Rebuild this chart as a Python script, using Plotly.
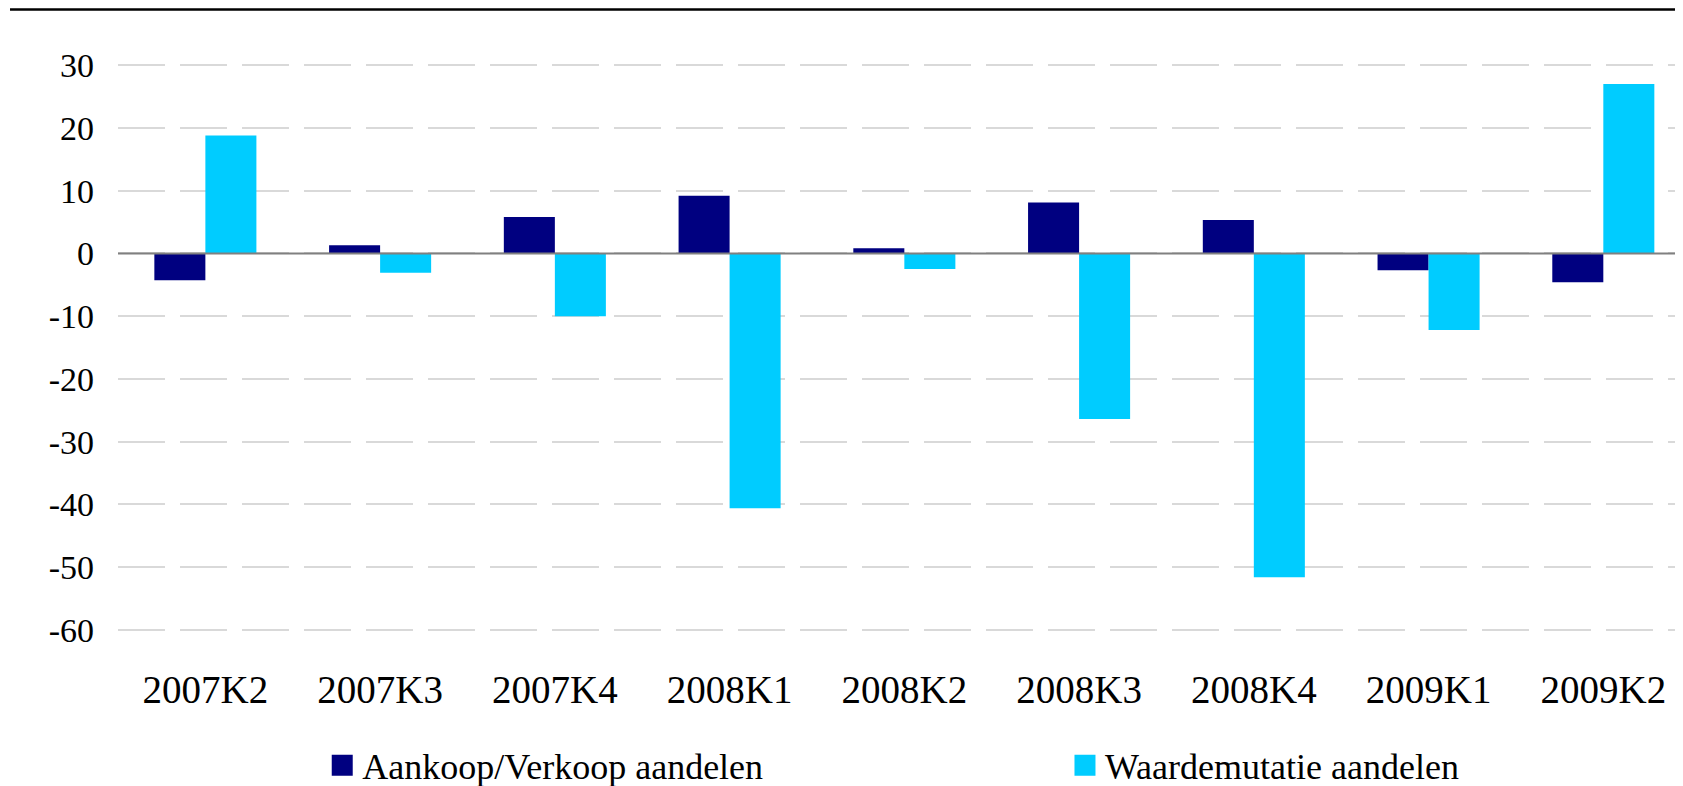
import plotly.graph_objects as go

kwartalen = ["2007K2", "2007K3", "2007K4", "2008K1", "2008K2", "2008K3", "2008K4", "2009K1", "2009K2"]
aankoop_verkoop = [-4.3, 1.3, 5.8, 9.2, 0.8, 8.1, 5.3, -2.7, -4.6]
waardemutatie = [18.8, -3.1, -10.0, -40.6, -2.5, -26.4, -51.6, -12.2, 27.0]
y_ticks = [30, 20, 10, 0, -10, -20, -30, -40, -50, -60]
y_labels = ["30", "20", "10", "0", "-10", "-20", "-30", "-40", "-50", "-60"]

FONT = "Liberation Serif"
KLEUR_AV = "#000080"
KLEUR_WM = "#00CCFF"

fig = go.Figure()
fig.add_trace(go.Bar(x=kwartalen, y=aankoop_verkoop, name="Aankoop/Verkoop aandelen",
                     marker=dict(color=KLEUR_AV, line=dict(width=0)), showlegend=False))
fig.add_trace(go.Bar(x=kwartalen, y=waardemutatie, name="Waardemutatie aandelen",
                     marker=dict(color=KLEUR_WM, line=dict(width=0)), showlegend=False))

# legenda-items met grotere vierkantjes, elk in een eigen legenda
fig.add_trace(go.Scatter(x=[None], y=[None], mode="markers", name="Aankoop/Verkoop aandelen",
                         marker=dict(symbol="square", size=16, color=KLEUR_AV,
                                     line=dict(color=KLEUR_AV, width=5)), legend="legend"))
fig.add_trace(go.Scatter(x=[None], y=[None], mode="markers", name="Waardemutatie aandelen",
                         marker=dict(symbol="square", size=16, color=KLEUR_WM,
                                     line=dict(color=KLEUR_WM, width=5)), legend="legend2"))

# nullijn boven de staven, lijn bovenaan
fig.add_hline(y=0, line=dict(color="#808080", width=2), layer="above")
fig.add_shape(type="line", xref="paper", yref="paper", x0=-0.069, x1=1.01, y0=1.092, y1=1.092,
              line=dict(color="black", width=2.5))

leg = dict(orientation="h", xanchor="left", yanchor="middle", y=-0.232,
           font=dict(size=36, family=FONT, color="black"), bgcolor="rgba(0,0,0,0)")
# de pagina heeft 8px body-marge; marges zijn daarvoor gecorrigeerd
fig.update_layout(
    width=1683, height=786,
    margin=dict(l=110, r=8, t=54, b=160.5, autoexpand=False),
    plot_bgcolor="white", paper_bgcolor="white",
    barmode="group", bargap=0.416, bargroupgap=0,
    font=dict(family=FONT, color="black"),
    legend=dict(leg, x=0.1305),
    legend2=dict(leg, x=0.6051),
)
fig.update_xaxes(range=[-0.5, 8.456], showgrid=False, showline=False, ticks="",
                 tickfont=dict(size=39, family=FONT), ticklabelstandoff=30)
fig.update_yaxes(range=[-60.5, 30.5], tickvals=y_ticks, ticktext=y_labels, showgrid=True,
                 gridcolor="#D9D9D9", gridwidth=1.5, griddash="47px,15px", zeroline=False,
                 showline=False, ticks="", tickfont=dict(size=34, family=FONT),
                 ticklabelstandoff=23)

fig.write_html("out.html")
